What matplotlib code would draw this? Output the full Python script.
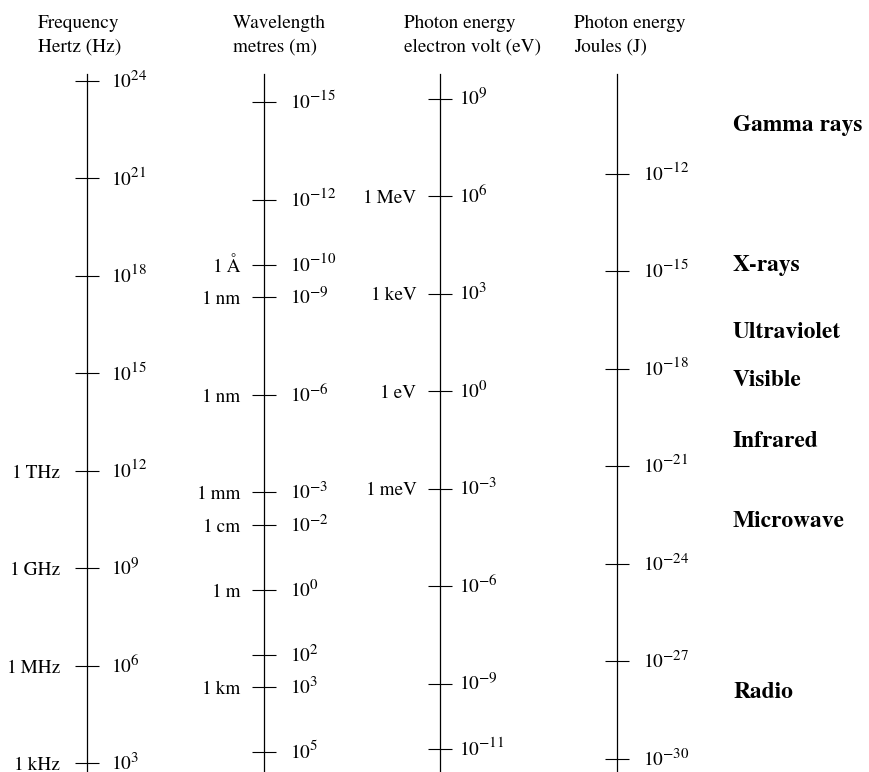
import numpy as np
import matplotlib
matplotlib.use("Agg")
import matplotlib.pyplot as plt
from matplotlib.ticker import NullLocator
from matplotlib.transforms import ScaledTranslation
try:
    import matplotlib._mathtext as _mt
    _mt.SHRINK_FACTOR = 0.78
except Exception:
    pass

# ---------------- data ----------------
freq_exp = [24, 21, 18, 15, 12, 9, 6, 3]
freq_named = ['', '', '', '', '1\u2009THz', '1\u2009GHz', '1\u2009MHz', '1\u2009kHz']

wave_exp = [-15, -12, -10, -9, -6, -3, -2, 0, 2, 3, 5]
wave_named = ['', '', '1\u2009Å', '1\u2009nm', '1\u2009nm', '1\u2009mm', '1\u2009cm', '1\u2009m', '', '1\u2009km', '']

ev_exp = [9, 6, 3, 0, -3, -6, -9, -11]
ev_named = ['', '1\u2009MeV', '1\u2009keV', '1\u2009eV', '1\u2009meV', '', '', '']

joule_exp = [-12, -15, -18, -21, -24, -27, -30]
joule_named = [''] * len(joule_exp)

bands = ['Gamma rays', 'X-rays', 'Ultraviolet', 'Visible', 'Infrared', 'Microwave', 'Radio']

headers = [('Frequency', 'Hertz (Hz)'),
           ('Wavelength', 'metres (m)'),
           ('Photon energy', 'electron volt (eV)'),
           ('Photon energy', 'Joules (J)')]

# scale calibration: log10(frequency) visible range, and each scale's
# relation to log10(frequency): value_exp = sign * freq_exp + offset
freq_lim = (2.738, 24.215)          # bottom, top (log10 Hz)
conv = [(1, 0.0), (-1, 8.34), (1, -14.46), (1, -33.14)]

# ---------------- layout ----------------
W, H = 869, 772
plt.rcParams['font.family'] = ['STIXGeneral', 'DejaVu Serif']
plt.rcParams['mathtext.fontset'] = 'stix'
FS = 13.9

fig = plt.figure(figsize=(W / 100, H / 100), dpi=100)

axis_x = [87, 263.5, 440, 617]
header_x = [38, 233, 404, 574]
left_pad = [10.8, 7.9, 8.3, 8.0]
right_pad = [16.6, 18.4, 13.0, 17.8]
top_px = 74
lift = ScaledTranslation(0, 2 / 100, fig.dpi_scale_trans)

columns = [(freq_exp, freq_named), (wave_exp, wave_named),
           (ev_exp, ev_named), (joule_exp, joule_named)]

for i, ((exps, named), (sgn, off)) in enumerate(zip(columns, conv)):
    ax = fig.add_axes([axis_x[i] / W, 0, 1 / W, (H - top_px) / H])
    ax.patch.set_visible(False)
    for s in ['top', 'right', 'bottom']:
        ax.spines[s].set_visible(False)
    ax.spines['left'].set_linewidth(0.9)
    ax.set_xticks([])
    ax.set_yscale('log')
    lo = 10.0 ** (sgn * freq_lim[0] + off)
    hi = 10.0 ** (sgn * freq_lim[1] + off)
    ax.set_ylim(lo, hi)
    vals = 10.0 ** np.array(exps, dtype=float)
    ax.set_yticks(vals, named)
    ax.yaxis.set_minor_locator(NullLocator())
    ax.tick_params(axis='y', which='major', direction='inout', length=17.3,
                   width=0.8, pad=left_pad[i], labelsize=FS)

    ax2 = ax.twinx()
    ax2.patch.set_visible(False)
    for s in ax2.spines.values():
        s.set_visible(False)
    ax2.set_yscale('log')
    ax2.set_ylim(lo, hi)
    ax2.set_yticks(vals, [r'$10^{%d}$' % e for e in exps])
    ax2.yaxis.set_minor_locator(NullLocator())
    ax2.tick_params(axis='y', which='major', length=0, pad=right_pad[i],
                    labelsize=FS)
    for t in ax2.yaxis.get_major_ticks():
        t.label2.set_transform(t.label2.get_transform() + lift)

    fig.text(header_x[i] / W, 1 - 28 / H, headers[i][0], fontsize=FS,
             ha='left', va='baseline')
    fig.text(header_x[i] / W, 1 - 52 / H, headers[i][1], fontsize=FS,
             ha='left', va='baseline')

band_x = 733
band_baseline = [131, 271, 337.5, 386.5, 447, 527, 698]
for name, yb in zip(bands, band_baseline):
    fig.text(band_x / W, 1 - yb / H, name, fontsize=16.8, fontweight='bold',
             ha='left', va='baseline')

fig.savefig('out.png', dpi=100)
